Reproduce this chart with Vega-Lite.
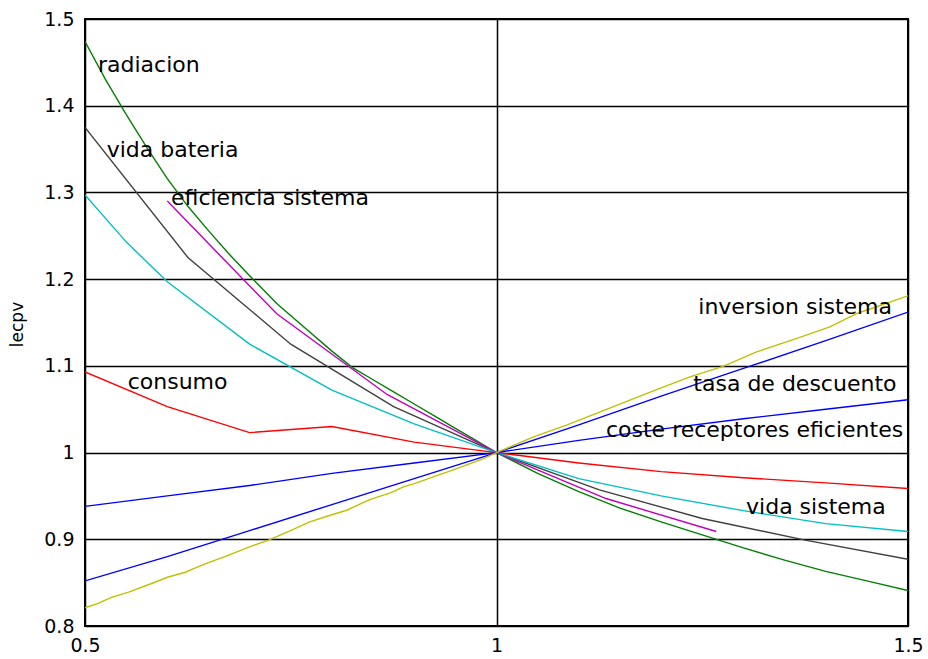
{
  "$schema": "https://vega.github.io/schema/vega-lite/v6.json",
  "width": 823,
  "height": 607,
  "autosize": "none",
  "padding": {"left": 85, "top": 19, "right": 20, "bottom": 33},
  "background": "white",
  "config": {
    "view": {"stroke": "black", "strokeWidth": 2},
    "font": "DejaVu Sans",
    "axis": {
      "domain": false,
      "ticks": false,
      "grid": true,
      "gridColor": "black",
      "gridOpacity": 1,
      "gridWidth": 1.5,
      "labelFont": "DejaVu Sans",
      "labelFontSize": 19,
      "labelColor": "black",
      "labelFlush": false,
      "labelOverlap": false,
      "labelBound": false,
      "titleFont": "DejaVu Sans",
      "titleFontWeight": "normal",
      "titleColor": "black"
    }
  },
  "datasets": {
    "series": [
      {"serie": "radiacion", "x": 0.5, "y": 1.474},
      {"serie": "radiacion", "x": 0.525, "y": 1.43},
      {"serie": "radiacion", "x": 0.55, "y": 1.39},
      {"serie": "radiacion", "x": 0.575, "y": 1.352},
      {"serie": "radiacion", "x": 0.6, "y": 1.316},
      {"serie": "radiacion", "x": 0.625, "y": 1.284},
      {"serie": "radiacion", "x": 0.65, "y": 1.256},
      {"serie": "radiacion", "x": 0.675, "y": 1.229},
      {"serie": "radiacion", "x": 0.7, "y": 1.204},
      {"serie": "radiacion", "x": 0.733, "y": 1.172},
      {"serie": "radiacion", "x": 0.767, "y": 1.144},
      {"serie": "radiacion", "x": 0.8, "y": 1.117},
      {"serie": "radiacion", "x": 0.825, "y": 1.098},
      {"serie": "radiacion", "x": 0.85, "y": 1.084},
      {"serie": "radiacion", "x": 0.875, "y": 1.07},
      {"serie": "radiacion", "x": 0.9, "y": 1.056},
      {"serie": "radiacion", "x": 0.925, "y": 1.042},
      {"serie": "radiacion", "x": 0.95, "y": 1.028},
      {"serie": "radiacion", "x": 0.975, "y": 1.014},
      {"serie": "radiacion", "x": 1.0, "y": 1.0},
      {"serie": "radiacion", "x": 1.05, "y": 0.976},
      {"serie": "radiacion", "x": 1.1, "y": 0.955},
      {"serie": "radiacion", "x": 1.15, "y": 0.936},
      {"serie": "radiacion", "x": 1.2, "y": 0.92},
      {"serie": "radiacion", "x": 1.25, "y": 0.905},
      {"serie": "radiacion", "x": 1.3, "y": 0.89},
      {"serie": "radiacion", "x": 1.35, "y": 0.876},
      {"serie": "radiacion", "x": 1.4, "y": 0.863},
      {"serie": "radiacion", "x": 1.45, "y": 0.852},
      {"serie": "radiacion", "x": 1.5, "y": 0.841},

      {"serie": "vida bateria", "x": 0.5, "y": 1.375},
      {"serie": "vida bateria", "x": 0.625, "y": 1.225},
      {"serie": "vida bateria", "x": 0.75, "y": 1.125},
      {"serie": "vida bateria", "x": 0.875, "y": 1.053},
      {"serie": "vida bateria", "x": 1.0, "y": 1.0},
      {"serie": "vida bateria", "x": 1.125, "y": 0.957},
      {"serie": "vida bateria", "x": 1.25, "y": 0.924},
      {"serie": "vida bateria", "x": 1.375, "y": 0.899},
      {"serie": "vida bateria", "x": 1.5, "y": 0.877},

      {"serie": "eficiencia sistema", "x": 0.6, "y": 1.29},
      {"serie": "eficiencia sistema", "x": 0.733, "y": 1.16},
      {"serie": "eficiencia sistema", "x": 0.867, "y": 1.067},
      {"serie": "eficiencia sistema", "x": 1.0, "y": 1.0},
      {"serie": "eficiencia sistema", "x": 1.133, "y": 0.947},
      {"serie": "eficiencia sistema", "x": 1.267, "y": 0.909},

      {"serie": "vida sistema", "x": 0.5, "y": 1.297},
      {"serie": "vida sistema", "x": 0.55, "y": 1.243},
      {"serie": "vida sistema", "x": 0.6, "y": 1.197},
      {"serie": "vida sistema", "x": 0.7, "y": 1.125},
      {"serie": "vida sistema", "x": 0.8, "y": 1.072},
      {"serie": "vida sistema", "x": 0.9, "y": 1.033},
      {"serie": "vida sistema", "x": 1.0, "y": 1.0},
      {"serie": "vida sistema", "x": 1.1, "y": 0.97},
      {"serie": "vida sistema", "x": 1.2, "y": 0.95},
      {"serie": "vida sistema", "x": 1.3, "y": 0.933},
      {"serie": "vida sistema", "x": 1.4, "y": 0.918},
      {"serie": "vida sistema", "x": 1.5, "y": 0.909},

      {"serie": "consumo", "x": 0.5, "y": 1.093},
      {"serie": "consumo", "x": 0.6, "y": 1.053},
      {"serie": "consumo", "x": 0.7, "y": 1.023},
      {"serie": "consumo", "x": 0.8, "y": 1.03},
      {"serie": "consumo", "x": 0.9, "y": 1.012},
      {"serie": "consumo", "x": 1.0, "y": 1.0},
      {"serie": "consumo", "x": 1.1, "y": 0.988},
      {"serie": "consumo", "x": 1.2, "y": 0.978},
      {"serie": "consumo", "x": 1.3, "y": 0.971},
      {"serie": "consumo", "x": 1.4, "y": 0.965},
      {"serie": "consumo", "x": 1.5, "y": 0.9585},

      {"serie": "coste receptores eficientes", "x": 0.5, "y": 0.938},
      {"serie": "coste receptores eficientes", "x": 0.6, "y": 0.95},
      {"serie": "coste receptores eficientes", "x": 0.7, "y": 0.962},
      {"serie": "coste receptores eficientes", "x": 0.8, "y": 0.976},
      {"serie": "coste receptores eficientes", "x": 0.9, "y": 0.988},
      {"serie": "coste receptores eficientes", "x": 1.0, "y": 1.0},
      {"serie": "coste receptores eficientes", "x": 1.1, "y": 1.014},
      {"serie": "coste receptores eficientes", "x": 1.2, "y": 1.027},
      {"serie": "coste receptores eficientes", "x": 1.3, "y": 1.039},
      {"serie": "coste receptores eficientes", "x": 1.4, "y": 1.05},
      {"serie": "coste receptores eficientes", "x": 1.5, "y": 1.061},

      {"serie": "tasa de descuento", "x": 0.5, "y": 0.852},
      {"serie": "tasa de descuento", "x": 0.6, "y": 0.88},
      {"serie": "tasa de descuento", "x": 0.7, "y": 0.91},
      {"serie": "tasa de descuento", "x": 0.8, "y": 0.94},
      {"serie": "tasa de descuento", "x": 0.9, "y": 0.97},
      {"serie": "tasa de descuento", "x": 1.0, "y": 1.0},
      {"serie": "tasa de descuento", "x": 1.1, "y": 1.032},
      {"serie": "tasa de descuento", "x": 1.2, "y": 1.065},
      {"serie": "tasa de descuento", "x": 1.3, "y": 1.097},
      {"serie": "tasa de descuento", "x": 1.4, "y": 1.129},
      {"serie": "tasa de descuento", "x": 1.5, "y": 1.162},

      {"serie": "inversion sistema", "x": 0.5, "y": 0.821},
      {"serie": "inversion sistema", "x": 0.516, "y": 0.826},
      {"serie": "inversion sistema", "x": 0.532, "y": 0.833},
      {"serie": "inversion sistema", "x": 0.553, "y": 0.839},
      {"serie": "inversion sistema", "x": 0.581, "y": 0.849},
      {"serie": "inversion sistema", "x": 0.601, "y": 0.8565},
      {"serie": "inversion sistema", "x": 0.622, "y": 0.862},
      {"serie": "inversion sistema", "x": 0.634, "y": 0.867},
      {"serie": "inversion sistema", "x": 0.65, "y": 0.873},
      {"serie": "inversion sistema", "x": 0.67, "y": 0.88},
      {"serie": "inversion sistema", "x": 0.699, "y": 0.891},
      {"serie": "inversion sistema", "x": 0.723, "y": 0.899},
      {"serie": "inversion sistema", "x": 0.749, "y": 0.9096},
      {"serie": "inversion sistema", "x": 0.773, "y": 0.92},
      {"serie": "inversion sistema", "x": 0.798, "y": 0.9277},
      {"serie": "inversion sistema", "x": 0.818, "y": 0.9335},
      {"serie": "inversion sistema", "x": 0.846, "y": 0.9458},
      {"serie": "inversion sistema", "x": 0.871, "y": 0.9535},
      {"serie": "inversion sistema", "x": 0.887, "y": 0.9604},
      {"serie": "inversion sistema", "x": 0.903, "y": 0.965},
      {"serie": "inversion sistema", "x": 0.923, "y": 0.9719},
      {"serie": "inversion sistema", "x": 0.944, "y": 0.9788},
      {"serie": "inversion sistema", "x": 0.968, "y": 0.9873},
      {"serie": "inversion sistema", "x": 0.984, "y": 0.993},
      {"serie": "inversion sistema", "x": 1.0, "y": 1.0},
      {"serie": "inversion sistema", "x": 1.045, "y": 1.018},
      {"serie": "inversion sistema", "x": 1.085, "y": 1.0316},
      {"serie": "inversion sistema", "x": 1.126, "y": 1.047},
      {"serie": "inversion sistema", "x": 1.182, "y": 1.068},
      {"serie": "inversion sistema", "x": 1.235, "y": 1.0873},
      {"serie": "inversion sistema", "x": 1.276, "y": 1.0996},
      {"serie": "inversion sistema", "x": 1.316, "y": 1.1161},
      {"serie": "inversion sistema", "x": 1.365, "y": 1.1316},
      {"serie": "inversion sistema", "x": 1.405, "y": 1.145},
      {"serie": "inversion sistema", "x": 1.438, "y": 1.1604},
      {"serie": "inversion sistema", "x": 1.5, "y": 1.1808}
    ],
    "labels": [
      {"label": "radiacion", "x": 0.5158, "y": 1.439},
      {"label": "vida bateria", "x": 0.5263, "y": 1.341},
      {"label": "eficiencia sistema", "x": 0.6045, "y": 1.2854},
      {"label": "consumo", "x": 0.5519, "y": 1.0731},
      {"label": "inversion sistema", "x": 1.2452, "y": 1.1593},
      {"label": "tasa de descuento", "x": 1.2392, "y": 1.0708},
      {"label": "coste receptores eficientes", "x": 1.133, "y": 1.0174},
      {"label": "vida sistema", "x": 1.3032, "y": 0.9297}
    ]
  },
  "layer": [
    {
      "data": {"name": "series"},
      "mark": {"type": "line", "strokeWidth": 1.4, "clip": true},
      "encoding": {
        "x": {
          "field": "x", "type": "quantitative",
          "scale": {"domain": [0.5, 1.5], "nice": false, "zero": false},
          "axis": {"values": [0.5, 1, 1.5], "format": "~g", "title": null, "labelPadding": 10}
        },
        "y": {
          "field": "y", "type": "quantitative",
          "scale": {"domain": [0.8, 1.5], "nice": false, "zero": false},
          "axis": {
            "values": [0.8, 0.9, 1, 1.1, 1.2, 1.3, 1.4, 1.5],
            "format": "~g",
            "title": "lecpv",
            "titleFontSize": 17,
            "titleAngle": -90,
            "titleX": -68,
            "titleY": 305,
            "titleAlign": "center",
            "titleBaseline": "middle",
            "labelPadding": 11
          }
        },
        "color": {
          "field": "serie", "type": "nominal", "legend": null,
          "scale": {
            "domain": ["radiacion", "vida bateria", "eficiencia sistema", "vida sistema", "consumo", "coste receptores eficientes", "tasa de descuento", "inversion sistema"],
            "range": ["#008000", "#404040", "#c000c0", "#00c0c0", "#ff0000", "#0000ff", "#0000ff", "#c0c000"]
          }
        },
        "detail": {"field": "serie"}
      }
    },
    {
      "data": {"name": "labels"},
      "mark": {"type": "text", "align": "left", "baseline": "alphabetic", "font": "DejaVu Sans", "fontSize": 22, "color": "black"},
      "encoding": {
        "x": {"field": "x", "type": "quantitative"},
        "y": {"field": "y", "type": "quantitative"},
        "text": {"field": "label"}
      }
    }
  ]
}
